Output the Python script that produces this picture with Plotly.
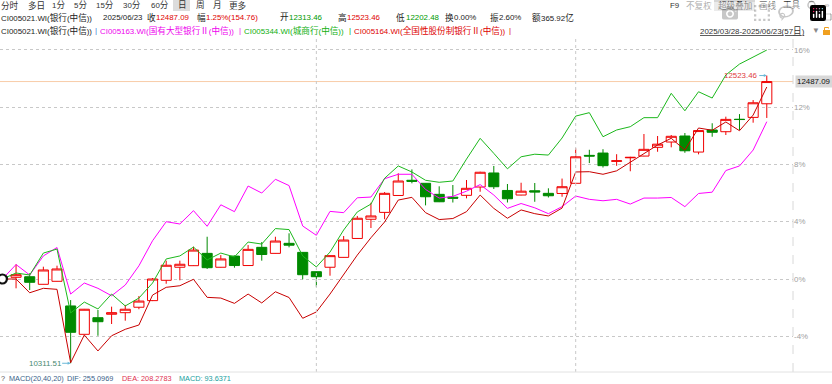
import re
import plotly.graph_objects as go
import pandas as pd

W, H = 832, 384

# ---------------- data ----------------
holidays = ['2025-04-04', '2025-05-01', '2025-05-02', '2025-05-05', '2025-06-02']
dates = [d for d in pd.bdate_range('2025-03-28', '2025-06-23') if d.strftime('%Y-%m-%d') not in holidays]

# CI005021.WI 银行(中信) daily candles, % change vs. first close
open_pct = [0.15, 0.12, 0.16, -0.37, -0.16, -1.88, -3.86, -2.70, -2.46, -2.35, -1.97, -1.51, -0.09, 0.82,
            0.93, 1.79, 0.82, 1.60, 0.94, 2.21, 1.79, 2.49, 1.86, 0.51, 0.82, 1.51, 2.83, 4.17, 4.65, 5.83,
            6.89, 6.68, 5.91, 5.71, 5.84, 6.42, 7.40, 6.18, 5.86, 6.16, 5.98, 5.97, 6.68, 8.63, 8.79, 8.21,
            8.46, 8.58, 9.19, 9.56, 9.98, 8.86, 10.40, 10.28, 11.15, 11.28, 12.23]
high_pct = [0.30, 1.03, 0.40, 0.86, 0.93, -1.47, -2.09, -2.16, -1.93, -1.81, -1.19, 0.07, 1.28, 1.28,
            2.25, 2.95, 1.67, 1.64, 2.37, 2.58, 2.95, 3.19, 1.88, 0.52, 1.64, 3.00, 4.40, 5.32, 6.07, 7.38,
            7.65, 6.70, 6.47, 6.56, 6.91, 7.49, 7.89, 6.63, 6.72, 6.70, 6.33, 7.01, 9.12, 9.02, 9.06, 8.71,
            8.53, 10.12, 9.98, 10.05, 10.19, 10.38, 10.87, 11.33, 11.51, 12.49, 14.20]
low_pct = [-0.25, -0.65, -0.77, -0.38, -0.17, -5.88, -3.87, -3.96, -3.14, -2.91, -2.11, -1.54, -0.33, -0.09,
           0.91, 0.70, 0.80, 0.79, 0.93, 1.28, 1.78, 2.21, -0.02, -0.54, 0.23, 1.50, 2.81, 3.56, 4.17, 5.81,
           6.68, 5.14, 5.37, 5.34, 5.63, 6.09, 6.28, 5.34, 5.84, 5.39, 5.69, 5.74, 6.66, 8.09, 7.78, 7.90,
           7.52, 8.57, 8.88, 9.19, 8.81, 8.70, 9.93, 10.05, 10.40, 10.91, 11.24]
close_pct = [0.00, 0.30, -0.23, 0.63, 0.70, -3.72, -2.11, -2.98, -2.35, -2.11, -1.54, 0.00, 0.96, 1.03,
             2.02, 0.79, 1.40, 0.94, 2.07, 1.71, 2.65, 2.36, 0.30, 0.16, 1.63, 2.72, 4.24, 4.40, 5.98, 6.84,
             6.82, 5.74, 5.39, 5.64, 6.33, 7.45, 6.44, 5.60, 6.13, 6.07, 5.81, 6.44, 8.53, 8.58, 7.91, 8.25,
             8.49, 9.05, 9.41, 9.96, 8.95, 10.36, 10.24, 11.14, 11.13, 12.30, 13.78]

# overlay series, % change vs. first day
state_big_pct = [0.00, 1.01, 0.28, 1.61, 2.20, -1.05, -0.28, -0.65, -1.17, -0.42, 0.92, 2.67, 4.00, 3.84,
                 4.77, 3.68, 5.18, 4.70, 6.49, 6.00, 6.96, 6.52, 3.70, 3.05, 4.72, 4.63, 5.67, 5.72, 7.00,
                 7.31, 7.31, 6.25, 5.65, 5.77, 6.13, 6.59, 5.86, 4.93, 5.27, 4.97, 4.56, 5.05, 5.79, 5.56,
                 5.46, 5.56, 5.23, 5.65, 5.65, 5.69, 5.05, 5.97, 6.06, 7.57, 7.89, 9.00, 10.98]
city_pct = [0.00, 0.42, 0.28, 1.81, 2.09, -2.37, -1.61, -2.09, -1.05, -1.88, -1.33, -0.28, 1.40, 1.61,
            2.23, 1.33, 1.81, 1.54, 2.58, 2.44, 3.52, 3.45, 1.61, 0.84, 1.88, 3.42, 4.68, 5.23, 7.03, 7.89,
            7.47, 6.89, 6.75, 6.84, 8.37, 9.82, 8.77, 7.69, 8.53, 8.71, 8.65, 9.84, 11.37, 11.61, 9.93,
            10.40, 10.63, 11.26, 11.26, 12.96, 11.74, 13.07, 12.63, 14.24, 15.00, 15.51, 15.98]
joint_pct = [0.00, 0.00, -0.96, -0.65, -0.72, -5.84, -3.91, -5.02, -3.96, -3.51, -3.21, -1.12, -0.58, -0.47,
             -0.02, -1.28, -1.33, -1.70, -1.05, -1.67, -0.89, -1.29, -2.74, -2.30, -1.05, 0.28, 1.67, 2.88,
             3.98, 5.51, 5.70, 4.63, 4.15, 4.22, 4.70, 5.86, 4.93, 4.24, 4.82, 4.56, 4.40, 4.95, 7.47,
             7.49, 7.31, 7.55, 8.16, 8.79, 9.35, 9.82, 9.00, 10.54, 10.38, 10.96, 10.35, 11.44, 13.40]

pct_ticks = [-4, 0, 4, 8, 12, 16]
last_close_label = "12487.09"
period_high_label = "12523.46"
period_low_label = "10311.51"

# ---------------- figure ----------------
x = list(range(len(dates)))
FONT = "Liberation Sans, Noto Sans CJK SC, DejaVu Sans, sans-serif"
FS = 7.9          # latin text
FS_CJK = 8.6      # chinese characters

PX_L, PX_R = 0, 793          # plot area in pixels
PY_T, PY_B = 36, 372
x_range = [-0.176, 57.92]
y_range = [-6.49, 16.96]

fig = go.Figure()

fig.add_trace(go.Candlestick(
    x=x, open=open_pct, high=high_pct, low=low_pct, close=close_pct,
    increasing=dict(line=dict(color='#f00000', width=1), fillcolor='#ffffff'),
    decreasing=dict(line=dict(color='#008a00', width=1), fillcolor='#008a00'),
    whiskerwidth=0, showlegend=False, hoverinfo='skip'))

fig.add_trace(go.Scatter(x=x, y=state_big_pct, mode='lines', line=dict(color='#ff00ff', width=1),
                         showlegend=False, hoverinfo='skip'))
fig.add_trace(go.Scatter(x=x, y=city_pct, mode='lines', line=dict(color='#1cb81c', width=1),
                         showlegend=False, hoverinfo='skip'))
fig.add_trace(go.Scatter(x=x, y=joint_pct, mode='lines', line=dict(color='#c80000', width=1),
                         showlegend=False, hoverinfo='skip'))

# start marker
fig.add_trace(go.Scatter(x=[x[0]], y=[close_pct[0]], mode='markers',
                         marker=dict(symbol='circle', size=9, color='white',
                                     line=dict(color='#111111', width=2.2)),
                         showlegend=False, hoverinfo='skip'))


def px2x(px):
    return px / W


def py2y(py):
    return 1 - py / H


shapes = []
# month separators
month_starts = [i for i in range(1, len(dates)) if dates[i].month != dates[i - 1].month][1:]
for i in month_starts:
    shapes.append(dict(type='line', xref='x', yref='paper', x0=i, x1=i,
                       y0=py2y(PY_B), y1=py2y(PY_T),
                       line=dict(color='#c8c8c8', width=1, dash='dot')))
# right border of the plot
shapes.append(dict(type='line', xref='paper', yref='paper', x0=px2x(PX_R), x1=px2x(PX_R),
                   y0=py2y(PY_B), y1=py2y(PY_T), line=dict(color='#d8d8d8', width=1, dash='dash')))
# bottom separator
shapes.append(dict(type='line', xref='paper', yref='paper', x0=0, x1=1,
                   y0=py2y(PY_B), y1=py2y(PY_B), line=dict(color='#e2e2e2', width=1)))
# last close line
shapes.append(dict(type='line', xref='paper', yref='y', x0=0, x1=px2x(PX_R),
                   y0=close_pct[-1], y1=close_pct[-1], line=dict(color='#f8cca8', width=1), layer='below'))
# toolbar highlights
shapes.append(dict(type='rect', xref='paper', yref='paper', x0=px2x(173), x1=px2x(190),
                   y0=py2y(11), y1=1, fillcolor='#dcdcdc', line=dict(width=0), layer='below'))
shapes.append(dict(type='rect', xref='paper', yref='paper', x0=px2x(714), x1=px2x(755),
                   y0=py2y(11), y1=1, fillcolor='#d6d6d6', line=dict(width=0), layer='below'))
# small icons: settings gear, keyboard, lock
shapes.append(dict(type='circle', xref='paper', yref='paper', x0=px2x(808), x1=px2x(815),
                   y0=py2y(8.5), y1=py2y(1.5), line=dict(color='#888888', width=1.5)))
shapes.append(dict(type='rect', xref='paper', yref='paper', x0=px2x(822), x1=px2x(831),
                   y0=py2y(20), y1=py2y(14), line=dict(color='#9a9a9a', width=1)))
shapes.append(dict(type='rect', xref='paper', yref='paper', x0=px2x(823), x1=px2x(830),
                   y0=py2y(35), y1=py2y(30), fillcolor='#f0a020', line=dict(width=0)))
shapes.append(dict(type='path', xref='paper', yref='paper',
                   path=f'M {px2x(824.5)},{py2y(30)} L {px2x(824.5)},{py2y(27.5)} '
                        f'L {px2x(828.5)},{py2y(27.5)} L {px2x(828.5)},{py2y(28.5)}',
                   line=dict(color='#f0a020', width=1)))

ann = []
CJK_RE = re.compile(r'([\u2160-\u217f\u3000-\u9fff\uff00-\uffef]+)')


def mixed(s):
    return CJK_RE.sub(lambda m: f'<span style="font-size:{FS_CJK}px">{m.group(1)}</span>', s)


def txt(px, py, s, color='#222222', size=FS, anchor='left', **kw):
    ann.append(dict(xref='paper', yref='paper', x=px2x(px), y=py2y(py), text=mixed(s), showarrow=False,
                    xanchor=anchor, yanchor='middle', font=dict(family=FONT, size=size, color=color),
                    borderpad=0, **kw))


# toolbar row
for px, s in [(0, '分时'), (27, '多日'), (51, '1分'), (73, '5分'), (95, '15分'), (122, '30分'),
              (150, '60分'), (177, '日'), (195, '周'), (212, '月'), (228, '更多')]:
    txt(px, 5, s, '#333333')
for px, s, c in [(669, 'F9', '#333333'), (685, '不复权', '#b0b0b0'), (717, '超级叠加', '#222222'),
                 (758, '画线', '#333333'), (782, '工具', '#333333'), (824, '»', '#666666')]:
    txt(px, 5, s, c)

# quote row
RED, GRN, DK = '#e00000', '#009900', '#222222'
for px, s, c in [(0, 'CI005021.WI(银行(中信))', DK), (102, '2025/06/23', DK),
                 (146, '收', DK), (155, last_close_label, RED),
                 (196, '幅', DK), (205, '1.25%(154.76)', RED),
                 (279, '开', DK), (288, '12313.46', GRN),
                 (337, '高', DK), (346, period_high_label, RED),
                 (395, '低', DK), (405, '12202.48', GRN),
                 (444, '换', DK), (453, '0.00%', DK),
                 (489, '振', DK), (498, '2.60%', DK),
                 (531, '额', DK), (540, '365.92亿', DK)]:
    txt(px, 17, s, c)

# legend row
for px, s, c in [(0, 'CI005021.WI(银行(中信))', DK), (94, '|', '#3a7bd5'),
                 (99, 'CI005163.WI(国有大型银行Ⅱ(中信))', '#ee00ee'), (238, '|', '#ee00ee'),
                 (243, 'CI005344.WI(城商行(中信))', '#10b010'), (348, '|', '#10b010'),
                 (353, 'CI005164.WI(全国性股份制银行Ⅱ(中信))', '#dd0000'), (508, '|', '#dd0000'),
                 (699, '<u>2025/03/28-2025/06/23(57日)</u>', '#333333'), (811, '▼', '#888888')]:
    txt(px, 31, s, c)

# MACD row
for px, s, c in [(0, '?', '#555555'), (8, 'MACD(20,40,20)', '#3b5f8a'), (66, 'DIF: 255.0969', '#3b5f8a'),
                 (121, 'DEA: 208.2783', '#e03050'), (178, 'MACD: 93.6371', '#20a0a0')]:
    txt(px, 378, s, c, size=7.3)

# last close tag on the right axis
ann.append(dict(xref='paper', yref='y', x=px2x(PX_R + 2), y=close_pct[-1], text=last_close_label,
                showarrow=False, xanchor='left', yanchor='middle', bgcolor='#d8d8d8',
                font=dict(family=FONT, size=FS, color='#111111'), borderpad=1))

# period high / low markers
i_hi = max(range(len(high_pct)), key=lambda i: high_pct[i])
i_lo = min(range(len(low_pct)), key=lambda i: low_pct[i])
ann.append(dict(xref='x', yref='y', x=i_hi, y=high_pct[i_hi], text=period_high_label, showarrow=True,
                ax=-26, ay=0, arrowhead=2, arrowsize=0.6, arrowwidth=1, arrowcolor='#6ab8d8',
                font=dict(family=FONT, size=FS, color='#e04040')))
ann.append(dict(xref='x', yref='y', x=i_lo, y=low_pct[i_lo], text=period_low_label, showarrow=True,
                ax=-26, ay=0, arrowhead=2, arrowsize=0.6, arrowwidth=1, arrowcolor='#6ab8d8',
                font=dict(family=FONT, size=FS, color='#4a8a70')))

fig.update_layout(
    width=W, height=H, margin=dict(l=0, r=0, t=0, b=0),
    paper_bgcolor='white', plot_bgcolor='white',
    boxgap=0.26, boxgroupgap=0,
    xaxis=dict(domain=[px2x(PX_L), px2x(PX_R)], range=x_range, showgrid=False, zeroline=False,
               showticklabels=False, ticks='', rangeslider=dict(visible=False), fixedrange=True),
    yaxis=dict(domain=[py2y(PY_B), py2y(PY_T)], range=y_range, side='right',
               tickvals=pct_ticks, ticktext=[f'{v}%' for v in pct_ticks],
               tickfont=dict(family=FONT, size=FS, color='#a0a0a0'),
               showgrid=True, gridcolor='#c8c8c8', griddash='dot', gridwidth=1,
               zeroline=False, ticks='', fixedrange=True),
    shapes=shapes, annotations=ann, showlegend=False,
)

fig.write_html("out.html", post_script="document.body.style.margin='0';document.body.style.padding='0';")
